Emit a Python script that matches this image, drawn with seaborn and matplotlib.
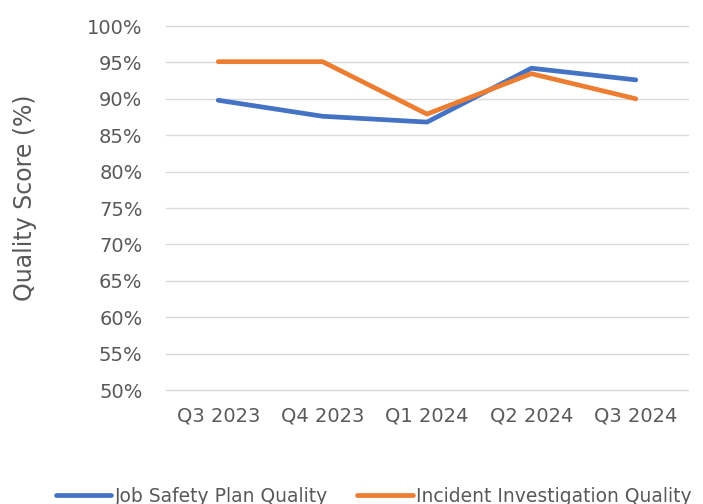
import pandas as pd
import seaborn as sns
import matplotlib.pyplot as plt
from matplotlib.ticker import PercentFormatter

quarters = ['Q3 2023', 'Q4 2023', 'Q1 2024', 'Q2 2024', 'Q3 2024']
job_safety = [89.8, 87.6, 86.8, 94.2, 92.6]
incident = [95.1, 95.1, 87.9, 93.45, 90.0]
series_names = ['Job Safety Plan Quality', 'Incident Investigation Quality']
colors = ['#4472C4', '#ED7D31']

df = pd.DataFrame({
    'Quarter': quarters * 2,
    'Score': job_safety + incident,
    'Series': [series_names[0]] * len(quarters) + [series_names[1]] * len(quarters),
})

sns.set_style('white')
plt.rcParams['font.family'] = ['DejaVu Sans']
text_col = '#595959'

fig = plt.figure(figsize=(7.03, 5.04), dpi=100)
ax = fig.add_axes([166/703, 1 - 390/504, 522/703, 364/504])

sns.lineplot(data=df, x='Quarter', y='Score', hue='Series', hue_order=series_names,
             palette=colors, linewidth=3.4, sort=False, ax=ax, legend=True)
for ln in ax.lines:
    ln.set_solid_capstyle('round')
    ln.set_solid_joinstyle('round')

ax.set_xlim(-0.5, 4.5)
ax.set_ylim(50, 100)
ax.set_yticks(range(50, 101, 5))
ax.yaxis.set_major_formatter(PercentFormatter(decimals=0))
ax.grid(axis='y', color='#D9D9D9', linewidth=1)
ax.grid(axis='x', visible=False)
for gl in ax.get_ygridlines():
    gl.set_clip_on(False)
ax.set_axisbelow(True)
for s in ax.spines.values():
    s.set_visible(False)
ax.tick_params(axis='y', length=0, pad=17, labelsize=14, labelcolor=text_col)
ax.tick_params(axis='x', length=0, pad=12, labelsize=14, labelcolor=text_col)
ax.set_xlabel('')
ax.set_ylabel('')
fig.text(25/703, 1 - 198/504, 'Quality Score (%)', rotation=90, ha='center',
         va='center', fontsize=17, color=text_col)

handles, labels = ax.get_legend_handles_labels()
ax.get_legend().remove()
leg = fig.legend(handles, labels, loc='center left', bbox_to_anchor=(56/703, 1 - 496/504),
                 ncol=2, frameon=False, fontsize=13.5, handlelength=2.95, handletextpad=0.2,
                 columnspacing=1.55, borderpad=0, borderaxespad=0)
for t in leg.get_texts():
    t.set_color(text_col)
for h in leg.get_lines():
    h.set_linewidth(3.4)
    h.set_solid_capstyle('round')

fig.savefig('out.png', dpi=100)
